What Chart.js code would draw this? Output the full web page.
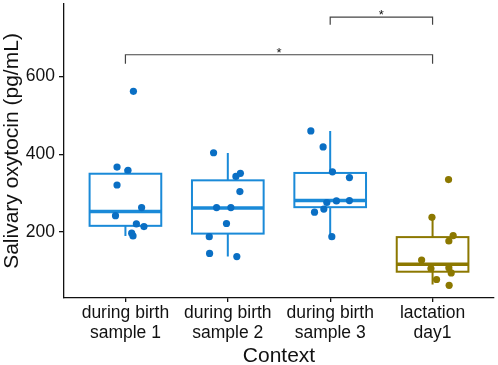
<!DOCTYPE html>
<html>
<head>
<meta charset="utf-8">
<script src="https://cdn.jsdelivr.net/npm/chart.js@4"></script>
<style>
	html, body { margin: 0; padding: 0; background: #fff; }
	#caixa { width: 498px; height: 365px; }
</style>
</head>
<body>
<div id="caixa"><canvas id="meu_grafico"></canvas></div>
<script>
//----------------------------------------Dados----------------------------------------
const categorias = [
	["during birth", "sample 1"],
	["during birth", "sample 2"],
	["during birth", "sample 3"],
	["lactation", "day1"]
];
const y_ticks = [200, 400, 600];

//Caixas (quartis e bigodes)
const caixa_q1 = [216, 196, 264, 98];
const caixa_mediana = [253, 262, 281, 117];
const caixa_q3 = [350, 333, 352, 187];
const bigode_min = [190, 137, 188, 65];
const bigode_max = [362, 403, 460, 238];

//Pontos (x com jitter)
const amostra1_x = [1.078, 0.918, 1.025, 0.918, 1.158, 0.903, 1.107, 1.181, 1.061, 1.074];
const amostra1_y = [562, 367, 359, 321, 263, 242, 221, 214, 197, 190];
const amostra2_x = [1.861, 2.079, 2.123, 2.118, 1.890, 2.030, 1.987, 1.819, 1.822, 2.088];
const amostra2_y = [404, 343, 351, 304, 263, 263, 222, 188, 145, 137];
const amostra3_x = [2.811, 2.931, 3.022, 3.188, 2.967, 3.061, 3.188, 2.847, 2.938, 3.016];
const amostra3_y = [460, 419, 355, 340, 276, 280, 281, 251, 259, 188];
const lactacao_x = [4.156, 3.994, 4.201, 4.159, 3.893, 3.984, 4.159, 4.182, 4.039, 4.162];
const lactacao_y = [335, 238, 191, 177, 128, 106, 108, 95, 78, 63];

//Colchetes de significancia
const colchete_de = [1, 3];
const colchete_ate = [4, 4];
const colchete_y = [656, 753];
const colchete_ponta = [633, 733];
const colchete_texto = ["*", "*"];

//----------------------------------------Estilo----------------------------------------
const cor_caixa = ["#1a8ad8", "#1a8ad8", "#1a8ad8", "#8c7800"];
const cor_ponto = ["#0a6fc4", "#0a6fc4", "#0a6fc4", "#8c7800"];
const fonte = "'Liberation Sans', Arial, sans-serif";

function pares(xs, ys){
	return xs.map((x, i) => ({x: x, y: ys[i]}));
}

//Desenha as caixas antes dos pontos e os colchetes depois
const plugin_caixas = {
	id: 'caixas',
	beforeDatasetsDraw(chart){
		const ctx = chart.ctx;
		const sx = chart.scales.x;
		const sy = chart.scales.y;
		ctx.save();
		caixa_q1.forEach((q1, i) => {
			const xc = sx.getPixelForValue(i + 1);
			const xl = sx.getPixelForValue(i + 1 - 0.35);
			const xr = sx.getPixelForValue(i + 1 + 0.35);
			const y1 = sy.getPixelForValue(q1);
			const y3 = sy.getPixelForValue(caixa_q3[i]);
			const ym = sy.getPixelForValue(caixa_mediana[i]);
			ctx.strokeStyle = cor_caixa[i];
			ctx.lineWidth = 2;
			ctx.beginPath();
			ctx.moveTo(xc, y3);
			ctx.lineTo(xc, sy.getPixelForValue(bigode_max[i]));
			ctx.moveTo(xc, y1);
			ctx.lineTo(xc, sy.getPixelForValue(bigode_min[i]));
			ctx.stroke();
			ctx.strokeRect(xl, y3, xr - xl, y1 - y3);
			ctx.lineWidth = 3.5;
			ctx.beginPath();
			ctx.moveTo(xl, ym);
			ctx.lineTo(xr, ym);
			ctx.stroke();
		});
		ctx.restore();
	},
	afterDatasetsDraw(chart){
		const ctx = chart.ctx;
		const sx = chart.scales.x;
		const sy = chart.scales.y;
		ctx.save();
		ctx.strokeStyle = "#444";
		ctx.lineWidth = 1.2;
		ctx.fillStyle = "#111";
		ctx.font = "13px " + fonte;
		ctx.textAlign = "center";
		ctx.textBaseline = "alphabetic";
		colchete_de.forEach((de, i) => {
			const xa = sx.getPixelForValue(de);
			const xb = sx.getPixelForValue(colchete_ate[i]);
			const yl = sy.getPixelForValue(colchete_y[i]);
			const yp = sy.getPixelForValue(colchete_ponta[i]);
			ctx.beginPath();
			ctx.moveTo(xa, yp);
			ctx.lineTo(xa, yl);
			ctx.lineTo(xb, yl);
			ctx.lineTo(xb, yp);
			ctx.stroke();
			ctx.fillText(colchete_texto[i], (xa + xb) / 2, yl + 2);
		});
		ctx.restore();
	}
};

//----------------------------------------Grafico----------------------------------------
const conjuntos = [
	[amostra1_x, amostra1_y],
	[amostra2_x, amostra2_y],
	[amostra3_x, amostra3_y],
	[lactacao_x, lactacao_y]
].map((par, i) => ({
	data: pares(par[0], par[1]),
	backgroundColor: cor_ponto[i],
	borderWidth: 0,
	pointRadius: 3.6
}));

new Chart(document.getElementById('meu_grafico'), {
	type: 'scatter',
	data: { datasets: conjuntos },
	plugins: [plugin_caixas],
	options: {
		responsive: true,
		maintainAspectRatio: false,
		animation: false,
		layout: { padding: { top: 2, right: 2, left: 0, bottom: 0 } },
		plugins: {
			legend: { display: false },
			tooltip: { enabled: false }
		},
		scales: {
			x: {
				type: 'linear',
				min: 0.4,
				max: 4.6,
				afterBuildTicks: s => { s.ticks = categorias.map((c, i) => ({value: i + 1})); },
				afterFit: s => { s.height = 67; s.paddingLeft = 0; s.paddingRight = 0; },
				grid: { drawOnChartArea: false, drawTicks: true, tickLength: 4, color: "#111", lineWidth: 1.3 },
				border: { display: true, color: "#111", width: 1.3 },
				ticks: {
					autoSkip: false,
					maxRotation: 0,
					padding: 1,
					color: "#111",
					font: { family: fonte, size: 17.5, lineHeight: 1.15 },
					callback: v => categorias[Math.round(v) - 1]
				},
				title: {
					display: true,
					text: "Context",
					color: "#111",
					padding: 0,
					font: { family: fonte, size: 21, lineHeight: 0.86 }
				}
			},
			y: {
				min: 30.4,
				max: 786.5,
				afterBuildTicks: s => { s.ticks = y_ticks.map(v => ({value: v})); },
				afterFit: s => { s.width = 64; s.paddingTop = 0; s.paddingBottom = 0; },
				grid: { drawOnChartArea: false, drawTicks: true, tickLength: 5, color: "#111", lineWidth: 1.3 },
				border: { display: true, color: "#111", width: 1.3 },
				ticks: {
					padding: 4,
					color: "#111",
					font: { family: fonte, size: 17.5 }
				},
				title: {
					display: true,
					text: "Salivary oxytocin (pg/mL)",
					color: "#111",
					padding: 0,
					font: { family: fonte, size: 21, lineHeight: 1.2 }
				}
			}
		}
	}
});
</script>
</body>
</html>
